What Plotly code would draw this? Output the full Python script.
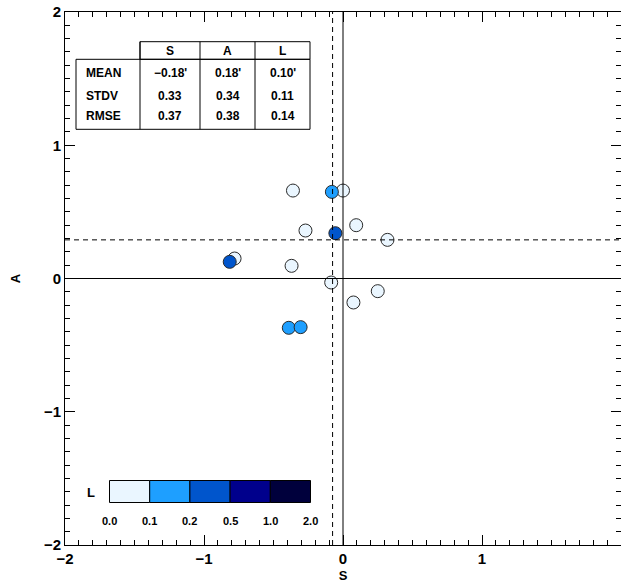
import numpy as np
import plotly.graph_objects as go

# ---- data -------------------------------------------------------------
s_vals = [-0.36, 0.00, 0.095, -0.27, 0.32, -0.78, -0.37, -0.085, 0.25, 0.075,
          -0.39, -0.305, -0.08, -0.055, -0.815]
a_vals = [0.66, 0.66, 0.40, 0.36, 0.29, 0.15, 0.095, -0.03, -0.095, -0.18,
          -0.37, -0.365, 0.65, 0.34, 0.125]
l_vals = [0.04, 0.05, 0.06, 0.03, 0.07, 0.05, 0.04, 0.02, 0.06, 0.05,
          0.13, 0.12, 0.15, 0.32, 0.28]

# reference lines (dashed)
ref_s = -0.075
ref_a = 0.29

# L classes and their colours
l_edges = [0.0, 0.1, 0.2, 0.5, 1.0, 2.0]
l_edge_labels = ["0.0", "0.1", "0.2", "0.5", "1.0", "2.0"]
l_colors = ["#EAF6FF", "#1E9FFF", "#0055CC", "#00008C", "#00003C"]

# statistics table
stat_cols = ["S", "A", "L"]
stat_rows = ["MEAN", "STDV", "RMSE"]
stat_text = [["\u22120.18'", "0.18'", "0.10'"],
             ["0.33", "0.34", "0.11"],
             ["0.37", "0.38", "0.14"]]

# ---- layout helpers (pixel -> paper) ------------------------------------
W, H = 621, 585
ML, MR, MT, MB = 65, 0, 12, 40
PW, PH = W - ML - MR, H - MT - MB


def fx(p):
    return (p - ML) / PW


def fy(p):
    return (H - MB - p) / PH


FONT = "Liberation Sans"

# discrete colour scale over class index
n_cls = len(l_colors)
cscale = []
for i, c in enumerate(l_colors):
    cscale.append([i / n_cls, c])
    cscale.append([(i + 1) / n_cls, c])
cls_idx = np.clip(np.digitize(l_vals, l_edges) - 1, 0, n_cls - 1) + 0.5

fig = go.Figure()
fig.add_trace(go.Scatter(
    x=s_vals, y=a_vals, mode="markers",
    marker=dict(size=13, color=cls_idx, colorscale=cscale, cmin=0, cmax=n_cls,
                line=dict(color="#2a2a2a", width=1)),
    showlegend=False, hoverinfo="x+y",
))

shapes = []
# zero lines
shapes.append(dict(type="line", xref="x", yref="paper", x0=0, x1=0, y0=0, y1=1,
                   line=dict(color="black", width=1)))
shapes.append(dict(type="line", xref="paper", yref="y", x0=0, x1=1, y0=0, y1=0,
                   line=dict(color="black", width=1)))
# dashed reference lines
shapes.append(dict(type="line", xref="x", yref="paper", x0=ref_s, x1=ref_s, y0=0, y1=1,
                   line=dict(color="black", width=1, dash="5px,4px")))
shapes.append(dict(type="line", xref="paper", yref="y", x0=0, x1=1, y0=ref_a, y1=ref_a,
                   line=dict(color="black", width=1, dash="5px,4px")))

# statistics table frame
tx_left, tx_col = 76, [140, 200, 255, 310]
ty_top, ty_head, ty_bot = 41.7, 59.3, 129.3
frame = dict(color="black", width=1)
shapes.append(dict(type="rect", xref="paper", yref="paper",
                   x0=fx(tx_col[0]), x1=fx(tx_col[-1]), y0=fy(ty_head), y1=fy(ty_top),
                   line=frame))
shapes.append(dict(type="rect", xref="paper", yref="paper",
                   x0=fx(tx_left), x1=fx(tx_col[-1]), y0=fy(ty_bot), y1=fy(ty_head),
                   line=frame))
for cx in tx_col[1:-1]:
    shapes.append(dict(type="line", xref="paper", yref="paper",
                       x0=fx(cx), x1=fx(cx), y0=fy(ty_bot), y1=fy(ty_top), line=frame))
shapes.append(dict(type="line", xref="paper", yref="paper",
                   x0=fx(tx_col[0]), x1=fx(tx_col[0]), y0=fy(ty_bot), y1=fy(ty_top),
                   line=frame))

annotations = []
tfont = dict(family=FONT, size=12, color="black", weight="bold")
head_y = (ty_top + ty_head) / 2
for j, name in enumerate(stat_cols):
    cx = (tx_col[j] + tx_col[j + 1]) / 2
    annotations.append(dict(xref="paper", yref="paper", x=fx(cx), y=fy(head_y),
                            text=name, showarrow=False, font=tfont,
                            xanchor="center", yanchor="middle"))
row_y = [73.3, 96.0, 116.5]
for i, rname in enumerate(stat_rows):
    annotations.append(dict(xref="paper", yref="paper", x=fx(84), y=fy(row_y[i]),
                            text=rname, showarrow=False, font=tfont,
                            xanchor="left", yanchor="middle"))
    for j in range(len(stat_cols)):
        cx = (tx_col[j] + tx_col[j + 1]) / 2
        annotations.append(dict(xref="paper", yref="paper", x=fx(cx), y=fy(row_y[i]),
                                text=stat_text[i][j], showarrow=False, font=tfont,
                                xanchor="center", yanchor="middle"))

# L colour key
kx0, kx1, ky0, ky1 = 109.5, 310.5, 480.5, 502.5
kw = (kx1 - kx0) / n_cls
for i, c in enumerate(l_colors):
    shapes.append(dict(type="rect", xref="paper", yref="paper",
                       x0=fx(kx0 + i * kw), x1=fx(kx0 + (i + 1) * kw),
                       y0=fy(ky1), y1=fy(ky0),
                       fillcolor=c, line=dict(color="black", width=1)))
for i, lab in enumerate(l_edge_labels):
    annotations.append(dict(xref="paper", yref="paper", x=fx(kx0 + i * kw), y=fy(521),
                            text=lab, showarrow=False,
                            font=dict(family=FONT, size=11, color="black", weight="bold"),
                            xanchor="center", yanchor="middle"))
annotations.append(dict(xref="paper", yref="paper", x=fx(91), y=fy(492),
                        text="L", showarrow=False,
                        font=dict(family=FONT, size=13, color="black", weight="bold"),
                        xanchor="center", yanchor="middle"))

axis_common = dict(
    range=[-2, 2], dtick=1, tick0=0, ticks="inside", ticklen=10, tickwidth=1,
    tickcolor="black", showline=True, linecolor="black", linewidth=1, mirror="allticks",
    showgrid=False, zeroline=False,
    minor=dict(dtick=0.1, ticks="inside", ticklen=5, tickwidth=1, tickcolor="black",
               showgrid=False),
    tickfont=dict(family=FONT, size=15, color="black", weight="bold"),
)

fig.update_layout(
    width=W, height=H,
    margin=dict(l=ML, r=MR, t=MT, b=MB, pad=0),
    paper_bgcolor="white", plot_bgcolor="white",
    xaxis=dict(**axis_common,
               title=dict(text="S", standoff=4,
                          font=dict(family=FONT, size=13, color="black", weight="bold"))),
    yaxis=dict(**axis_common,
               title=dict(text="A", standoff=20,
                          font=dict(family=FONT, size=13, color="black", weight="bold"))),
    shapes=shapes,
    annotations=annotations,
)

fig.write_html("out.html")
